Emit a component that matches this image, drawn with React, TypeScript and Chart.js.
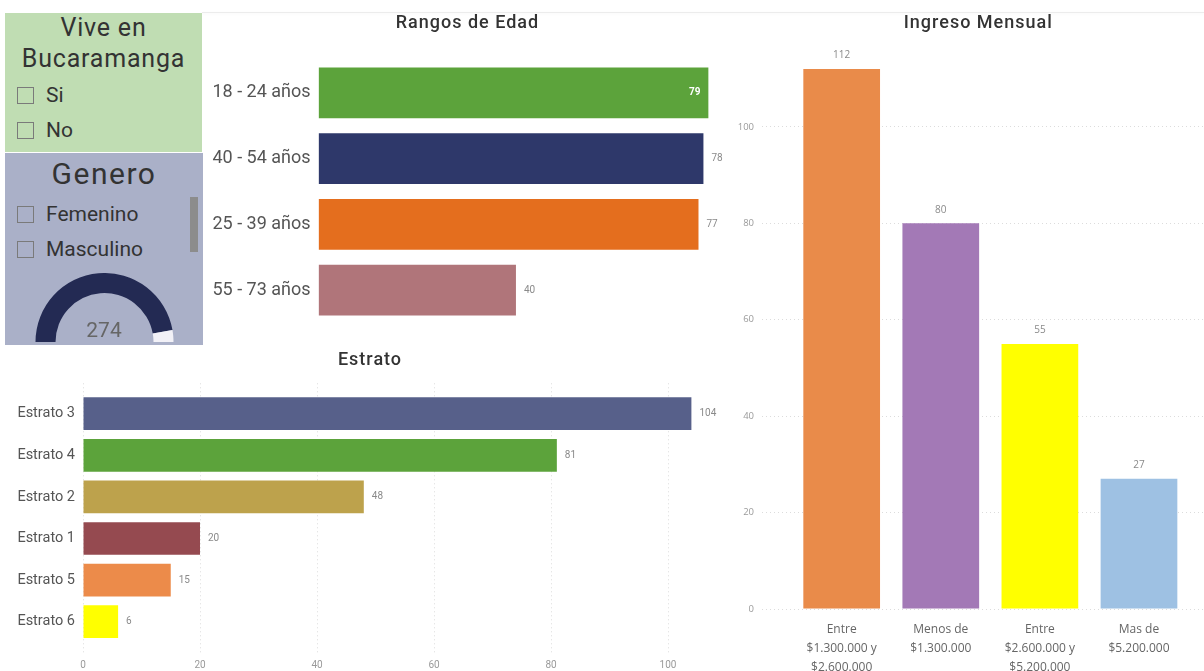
import React, { useEffect, useRef } from 'react';
import { Chart, registerables } from 'chart.js';

Chart.register(...registerables);

// ---- Rangos de Edad ----
const edadLabels = ['18 - 24 años', '40 - 54 años', '25 - 39 años', '55 - 73 años'];
const edadValues = [79, 78, 77, 40];
const edadColors = ['#5ca33b', '#2e386a', '#e46e1e', '#b0757a'];

// ---- Estrato ----
const estratoLabels = ['Estrato 3', 'Estrato 4', 'Estrato 2', 'Estrato 1', 'Estrato 5', 'Estrato 6'];
const estratoValues = [104, 81, 48, 20, 15, 6];
const estratoColors = ['#57608a', '#5ca33b', '#bda24c', '#954a50', '#ec8b4a', '#ffff00'];
const estratoTicks = [0, 20, 40, 60, 80, 100];

// ---- Ingreso Mensual ----
const ingresoLabels = [
  ['Entre', '$1.300.000 y', '$2.600.000'],
  ['Menos de', '$1.300.000'],
  ['Entre', '$2.600.000 y', '$5.200.000'],
  ['Mas de', '$5.200.000'],
];
const ingresoValues = [112, 80, 55, 27];
const ingresoColors = ['#e98b4a', '#a379b6', '#ffff00', '#9ec1e3'];
const ingresoTicks = [0, 20, 40, 60, 80, 100];

// ---- Slicers and gauge ----
const viveOptions = ['Si', 'No'];
const generoOptions = ['Femenino', 'Masculino'];
const totalRespuestas = 274;
const gaugeMax = 290;

type LabelCfg = {
  horizontal: boolean;
  font: string;
  color: string;
  gap: number;
  insideMax?: boolean;
};

// Draws the value of each bar next to (or inside) the bar end.
function barValueLabels(values: number[], cfg: LabelCfg) {
  return {
    id: 'barValueLabels',
    afterDatasetsDraw(chart: any) {
      const ctx = chart.ctx as CanvasRenderingContext2D;
      const meta = chart.getDatasetMeta(0);
      const top = Math.max(...values);
      ctx.save();
      ctx.textBaseline = 'middle';
      meta.data.forEach((el: any, i: number) => {
        const v = values[i];
        const text = String(v);
        if (cfg.horizontal) {
          if (cfg.insideMax && v === top) {
            ctx.font = 'bold ' + cfg.font;
            ctx.fillStyle = '#ffffff';
            ctx.textAlign = 'right';
            ctx.fillText(text, el.x - cfg.gap, el.y);
          } else {
            ctx.font = cfg.font;
            ctx.fillStyle = cfg.color;
            ctx.textAlign = 'left';
            ctx.fillText(text, el.x + cfg.gap, el.y);
          }
        } else {
          ctx.font = cfg.font;
          ctx.fillStyle = cfg.color;
          ctx.textAlign = 'center';
          ctx.fillText(text, el.x, el.y - cfg.gap);
        }
      });
      ctx.restore();
    },
  };
}

const noPlugins = { legend: { display: false }, tooltip: { enabled: false } };

// Fixes an axis to a given thickness and drops the label overhang margins,
// so the plot area is decided by the layout padding alone.
function fixedVertical(width: number) {
  return (s: any) => {
    s.width = width;
    s.paddingTop = 0;
    s.paddingBottom = 0;
  };
}
function fixedHorizontal(height: number) {
  return (s: any) => {
    s.height = height;
    s.paddingLeft = 0;
    s.paddingRight = 0;
  };
}

function edadConfig(): any {
  return {
    type: 'bar',
    data: {
      labels: edadLabels,
      datasets: [
        {
          data: edadValues,
          backgroundColor: edadColors,
          borderWidth: 0,
          categoryPercentage: 1,
          barPercentage: 0.773,
        },
      ],
    },
    options: {
      indexAxis: 'y',
      responsive: false,
      animation: false,
      events: [],
      layout: { padding: { top: 60, bottom: 7, left: 0, right: 20.7 } },
      plugins: noPlugins,
      scales: {
        x: { display: false, min: 0, max: 80 },
        y: {
          grid: { display: false, drawTicks: false },
          border: { display: false },
          ticks: { color: '#555555', font: { family: 'Roboto', size: 18 }, padding: 8 },
          afterFit: fixedVertical(118.6),
        },
      },
    },
    plugins: [
      barValueLabels(edadValues, {
        horizontal: true,
        font: '10px Roboto',
        color: '#8a8a8a',
        gap: 8,
        insideMax: true,
      }),
    ],
  };
}

function estratoConfig(): any {
  return {
    type: 'bar',
    data: {
      datasets: [
        {
          data: estratoValues.map((v, i) => ({ x: v, y: i })),
          backgroundColor: estratoColors,
          borderWidth: 0,
          categoryPercentage: 1,
          barPercentage: 0.786,
        },
      ],
    },
    options: {
      indexAxis: 'y',
      responsive: false,
      animation: false,
      events: [],
      layout: { padding: { top: 43.3, bottom: 0, left: 0, right: 9.5 } },
      plugins: noPlugins,
      scales: {
        x: {
          type: 'linear',
          min: 0,
          max: 110,
          grid: { color: '#dcdcdc', drawTicks: false },
          border: { display: false, dash: [1, 3] },
          ticks: { color: '#9a9a9a', font: { family: 'Roboto', size: 10 }, padding: 4 },
          afterBuildTicks: (s: any) => {
            s.ticks = estratoTicks.map((v) => ({ value: v }));
          },
          afterFit: fixedHorizontal(16),
        },
        y: {
          type: 'linear',
          reverse: true,
          offset: false,
          min: -0.73,
          max: 5.8,
          grid: { display: false, drawTicks: false, offset: false },
          border: { display: false },
          ticks: {
            autoSkip: false,
            color: '#555555',
            font: { family: 'Roboto', size: 14.5 },
            padding: 8,
            callback: (v: number) => estratoLabels[v],
          },
          afterBuildTicks: (s: any) => {
            s.ticks = estratoLabels.map((_, i) => ({ value: i }));
          },
          afterFit: fixedVertical(83),
        },
      },
    },
    plugins: [
      barValueLabels(estratoValues, {
        horizontal: true,
        font: '10px Roboto',
        color: '#8a8a8a',
        gap: 8,
      }),
    ],
  };
}

function ingresoConfig(): any {
  return {
    type: 'bar',
    data: {
      datasets: [
        {
          data: ingresoValues.map((v, i) => ({ x: i, y: v })),
          backgroundColor: ingresoColors,
          borderWidth: 0,
          categoryPercentage: 1,
          barPercentage: 0.774,
        },
      ],
    },
    options: {
      responsive: false,
      animation: false,
      events: [],
      layout: { padding: { top: 40.2, bottom: 0, left: 0, right: 0 } },
      plugins: noPlugins,
      scales: {
        x: {
          type: 'linear',
          offset: false,
          min: -0.804,
          max: 3.656,
          grid: { display: false, drawTicks: false, offset: false },
          border: { display: false },
          ticks: {
            autoSkip: false,
            maxRotation: 0,
            color: '#666666',
            font: { family: 'Open Sans', size: 12, lineHeight: 1.58 },
            padding: 11,
            callback: (v: number) => ingresoLabels[v],
          },
          afterBuildTicks: (s: any) => {
            s.ticks = ingresoLabels.map((_, i) => ({ value: i }));
          },
          afterFit: fixedHorizontal(71),
        },
        y: {
          min: 0,
          max: 118,
          grid: { color: '#dcdcdc', drawTicks: false },
          border: { display: false, dash: [1, 3] },
          ticks: { color: '#9a9a9a', font: { family: 'Open Sans', size: 9.5 }, padding: 8 },
          afterBuildTicks: (s: any) => {
            s.ticks = ingresoTicks.map((v) => ({ value: v }));
          },
          afterFit: fixedVertical(32),
        },
      },
    },
    plugins: [
      barValueLabels(ingresoValues, {
        horizontal: false,
        font: '10px "Open Sans"',
        color: '#8a8a8a',
        gap: 13.7,
      }),
    ],
  };
}

function gaugeConfig(): any {
  return {
    type: 'doughnut',
    data: {
      datasets: [
        {
          data: [totalRespuestas, gaugeMax - totalRespuestas],
          backgroundColor: ['#232a53', '#f2f1f7'],
          borderWidth: 0,
        },
      ],
    },
    options: {
      responsive: false,
      animation: false,
      events: [],
      rotation: -90,
      circumference: 180,
      cutout: '71%',
      layout: { padding: 0 },
      plugins: noPlugins,
    },
  };
}

function ChartBox(props: { left: number; top: number; width: number; height: number; build: () => any }) {
  const ref = useRef<HTMLCanvasElement>(null);
  useEffect(() => {
    const chart = new Chart(ref.current as HTMLCanvasElement, props.build());
    return () => chart.destroy();
  }, []);
  return (
    <canvas
      ref={ref}
      width={props.width}
      height={props.height}
      style={{ position: 'absolute', left: props.left, top: props.top, width: props.width, height: props.height }}
    />
  );
}

function Title(props: { text: string; cx: number; cy: number }) {
  return (
    <div
      style={{
        position: 'absolute',
        left: props.cx - 150,
        top: props.cy - 12,
        width: 300,
        height: 24,
        lineHeight: '24px',
        textAlign: 'center',
        fontFamily: 'Roboto',
        fontWeight: 500,
        fontSize: 18,
        letterSpacing: 1,
        color: '#333333',
        whiteSpace: 'nowrap',
      }}
    >
      {props.text}
    </div>
  );
}

function CheckItem(props: { label: string; cy: number }) {
  return (
    <>
      <div
        style={{
          position: 'absolute',
          left: 17,
          top: props.cy - 8.5,
          width: 15,
          height: 15,
          border: '1px solid #7a7a7a',
        }}
      />
      <div
        style={{
          position: 'absolute',
          left: 46,
          top: props.cy - 14,
          height: 28,
          lineHeight: '28px',
          fontFamily: 'Roboto',
          fontSize: 21,
          color: '#333333',
          whiteSpace: 'nowrap',
        }}
      >
        {props.label}
      </div>
    </>
  );
}

export default function App() {
  const viveY = [95, 130];
  const generoY = [214, 249];
  return (
    <div
      style={{
        position: 'fixed',
        left: 0,
        top: 0,
        width: 1204,
        height: 671,
        overflow: 'hidden',
        background: '#ffffff',
      }}
    >
      {/* header strip */}
      <div
        style={{
          position: 'absolute',
          left: 202,
          top: 12,
          width: 1002,
          height: 1,
          background: '#ececec',
          boxShadow: '0 1px 3px rgba(0,0,0,0.05)',
        }}
      />

      {/* Vive en Bucaramanga slicer */}
      <div style={{ position: 'absolute', left: 5, top: 13, width: 197, height: 139, background: '#c0ddb3' }} />
      <div
        style={{
          position: 'absolute',
          left: 5,
          top: 11.5,
          width: 197,
          textAlign: 'center',
          fontFamily: 'Roboto',
          fontSize: 25,
          letterSpacing: 0.8,
          lineHeight: '31px',
          color: '#333333',
        }}
      >
        Vive en
        <br />
        Bucaramanga
      </div>
      {viveOptions.map((o, i) => (
        <CheckItem key={o} label={o} cy={viveY[i]} />
      ))}

      {/* Genero slicer */}
      <div style={{ position: 'absolute', left: 5, top: 153, width: 198, height: 192, background: '#aab0c8' }} />
      <div
        style={{
          position: 'absolute',
          left: 5,
          top: 156,
          width: 198,
          height: 36,
          lineHeight: '36px',
          textAlign: 'center',
          fontFamily: 'Roboto',
          fontSize: 30,
          letterSpacing: 1.5,
          color: '#333333',
        }}
      >
        Genero
      </div>
      {generoOptions.map((o, i) => (
        <CheckItem key={o} label={o} cy={generoY[i]} />
      ))}
      <div style={{ position: 'absolute', left: 190, top: 197, width: 8, height: 55, background: '#8c8c8c' }} />

      {/* total gauge */}
      <ChartBox left={35} top={273} width={139} height={69} build={gaugeConfig} />
      <div
        style={{
          position: 'absolute',
          left: 54,
          top: 316,
          width: 100,
          height: 28,
          lineHeight: '28px',
          textAlign: 'center',
          fontFamily: 'Roboto',
          fontSize: 21,
          color: '#666666',
        }}
      >
        {totalRespuestas}
      </div>

      {/* charts */}
      <ChartBox left={200} top={0} width={534} height={330} build={edadConfig} />
      <ChartBox left={0} top={340} width={736} height={331} build={estratoConfig} />
      <ChartBox left={730} top={0} width={474} height={680} build={ingresoConfig} />

      <Title text="Rangos de Edad" cx={467.5} cy={22} />
      <Title text="Estrato" cx={370} cy={359} />
      <Title text="Ingreso Mensual" cx={978.3} cy={22} />
    </div>
  );
}
